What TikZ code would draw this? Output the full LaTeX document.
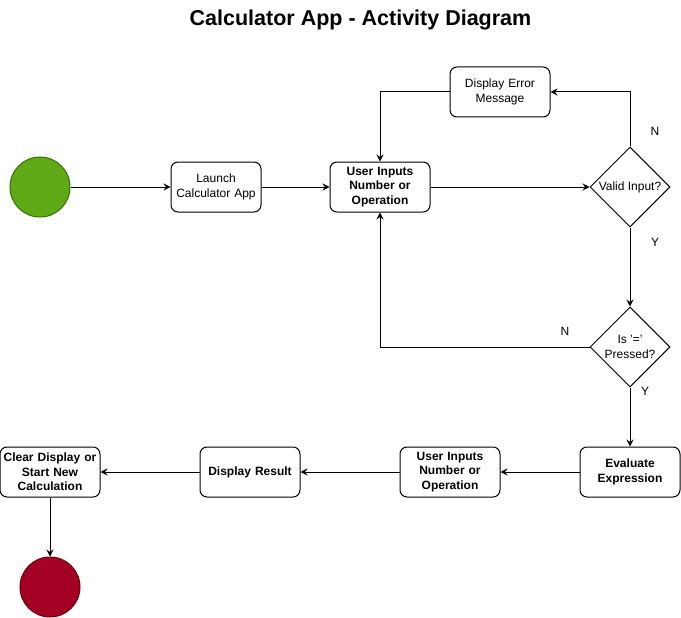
\documentclass[tikz,border=0pt]{standalone}
\usepackage{fontspec}
\setmainfont{Liberation Sans}
\usetikzlibrary{positioning,shapes.geometric,arrows.meta}
\definecolor{startfill}{HTML}{60A917}
\definecolor{startline}{HTML}{2D7600}
\definecolor{endfill}{HTML}{A20025}
\definecolor{endline}{HTML}{6F0000}
\begin{document}
\begin{tikzpicture}[
    x=1pt, y=-1pt,
    box/.style={draw, line width=1pt, rounded corners=7pt, minimum width=100pt,
                minimum height=50pt, text width=96pt, align=center,
                inner sep=1pt, font=\fontsize{12}{14.5}\selectfont},
    act/.style={box, font=\fontsize{12}{14.5}\selectfont\bfseries},
    choice/.style={draw, line width=1pt, diamond, minimum width=80pt, minimum height=80pt,
                   inner sep=0pt, align=center, font=\fontsize{12}{14.5}\selectfont},
    lbl/.style={font=\fontsize{12}{14.5}\selectfont},
    arr/.style={-{Stealth[length=7pt,width=7pt,inset=2.5pt]}, line width=1pt}
]
\useasboundingbox (0,0) rectangle (681,618);
\node[font=\fontsize{21.5}{25}\selectfont\bfseries] (title) at (360.5,20) {Calculator App - Activity Diagram};
\node[circle, draw=startline, fill=startfill, line width=1pt, minimum size=60pt, inner sep=0pt] (start) at (40,187) {};
\node[box, minimum width=90pt, text width=88pt] (launch) at (216,187) {Launch\\Calculator App};
\node[act] (input) at (380,187) {User Inputs\\Number or\\Operation};
\node[box] (error) at (500,92) {Display Error\\Message};
\node[choice] (valid) at (630,187) {Valid Input?};
\node[choice] (equals) at (630,347) {Is '='\\Pressed?};
\node[act] (eval) at (630,472) {Evaluate\\Expression};
\node[act] (input2) at (450,472) {User Inputs\\Number or\\Operation};
\node[act] (result) at (250,472) {Display Result};
\node[act] (clear) at (50,472) {Clear Display or\\Start New\\Calculation};
\node[circle, draw=endline, fill=endfill, line width=1pt, minimum size=60pt, inner sep=0pt] (stop) at (50,587) {};
\draw[arr] (start) -- (launch);
\draw[arr] (launch) -- (input);
\draw[arr] (input) -- (valid.west);
\draw[arr] (valid.north) |- (error.east);
\draw[arr] (error.west) -| (input.north);
\draw[arr] (valid.south) -- (equals.north);
\draw[arr] (equals.west) -| (input.south);
\draw[arr] (equals.south) -- (eval.north);
\draw[arr] (eval) -- (input2);
\draw[arr] (input2) -- (result);
\draw[arr] (result) -- (clear);
\draw[arr] (clear) -- (stop);
\node[lbl] (nvalid) at (655,131) {N};
\node[lbl] (yvalid) at (655,242) {Y};
\node[lbl] (nequals) at (565,331) {N};
\node[lbl] (yequals) at (645,391) {Y};
\end{tikzpicture}
\end{document}
